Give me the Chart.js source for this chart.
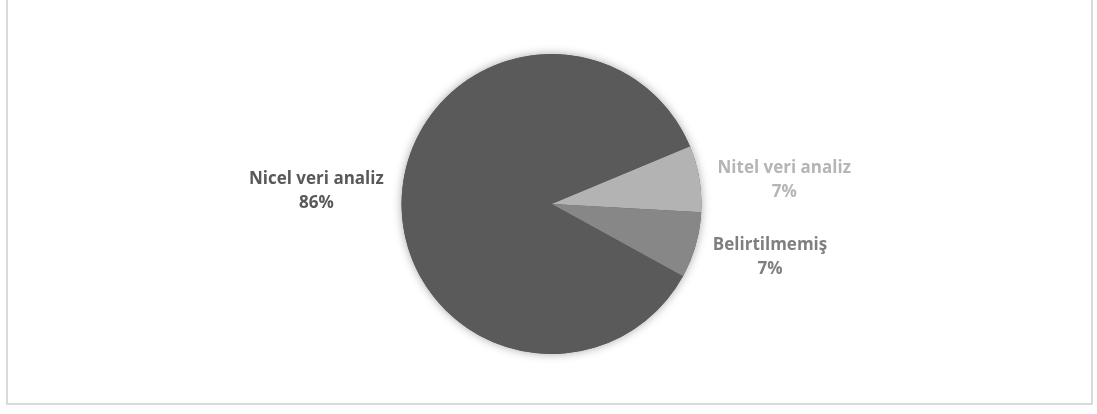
<!DOCTYPE html>
<html>
<head>
<meta charset="utf-8">
<script src="https://cdn.jsdelivr.net/npm/chart.js@4"></script>
<style>
    html, body { margin: 0; padding: 0; background: #fff; overflow: hidden; }
    #wrap { position: relative; width: 1097px; height: 414px; }
    #frame { position: absolute; left: 6px; top: -10px; width: 1087px; height: 415px; border: 2px solid #d9d9d9; box-sizing: border-box; }
    canvas { position: absolute; left: 0; top: 0; }
</style>
</head>
<body>
<div id="wrap">
    <div id="frame"></div>
    <canvas id="pieChart" width="1097" height="414"></canvas>
</div>
<script>
// slice data (order follows the drawing, starting at the upper right)
const categories = ['Nitel veri analiz', 'Belirtilmemiş', 'Nicel veri analiz'];
const counts = [1, 1, 12];
const percentLabels = ['7%', '7%', '86%'];

const sliceColours = ['#b3b3b3', '#878787', '#5a5a5a'];
const labelColours = ['#b5b5b5', '#7f7f7f', '#595959'];

// label placement relative to each slice: radius factor and angle nudge (degrees)
const labelPlacement = [
    { r: 1.56, nudge: 3.8 },
    { r: 1.50, nudge: -2.2 },
    { r: 1.57, nudge: 0 }
];

// soft shadow under the whole pie
const pieShadow = {
    id: 'pieShadow',
    beforeDatasetsDraw(chart) {
        const arc = chart.getDatasetMeta(0).data[0];
        if (!arc) return;
        const ctx = chart.ctx;
        ctx.save();
        ctx.shadowColor = 'rgba(0,0,0,0.35)';
        ctx.shadowBlur = 10;
        ctx.fillStyle = '#5a5a5a';
        ctx.beginPath();
        ctx.arc(arc.x, arc.y, arc.outerRadius, 0, Math.PI * 2);
        ctx.fill();
        ctx.restore();
    }
};

// category + percent labels outside the pie
const sliceLabels = {
    id: 'sliceLabels',
    afterDatasetsDraw(chart) {
        const ctx = chart.ctx;
        const meta = chart.getDatasetMeta(0);
        ctx.save();
        ctx.font = 'bold 17px "Open Sans"';
        ctx.textAlign = 'center';
        ctx.textBaseline = 'middle';
        meta.data.forEach((arc, i) => {
            const p = labelPlacement[i];
            const mid = (arc.startAngle + arc.endAngle) / 2 + p.nudge * Math.PI / 180;
            const dist = arc.outerRadius * p.r;
            const x = arc.x + Math.cos(mid) * dist;
            const y = arc.y + Math.sin(mid) * dist;
            ctx.fillStyle = labelColours[i];
            ctx.fillText(categories[i], x, y - 12);
            ctx.fillText(percentLabels[i], x, y + 12);
        });
        ctx.restore();
    }
};

new Chart(document.getElementById('pieChart').getContext('2d'), {
    type: 'pie',
    data: {
        labels: categories,
        datasets: [{
            data: counts,
            backgroundColor: sliceColours,
            borderWidth: 0
        }]
    },
    options: {
        responsive: false,
        animation: false,
        rotation: 67.4,
        layout: { padding: { top: 54, bottom: 60, left: 6, right: 0 } },
        plugins: {
            legend: { display: false },
            tooltip: { enabled: false }
        }
    },
    plugins: [pieShadow, sliceLabels]
});
</script>
</body>
</html>
